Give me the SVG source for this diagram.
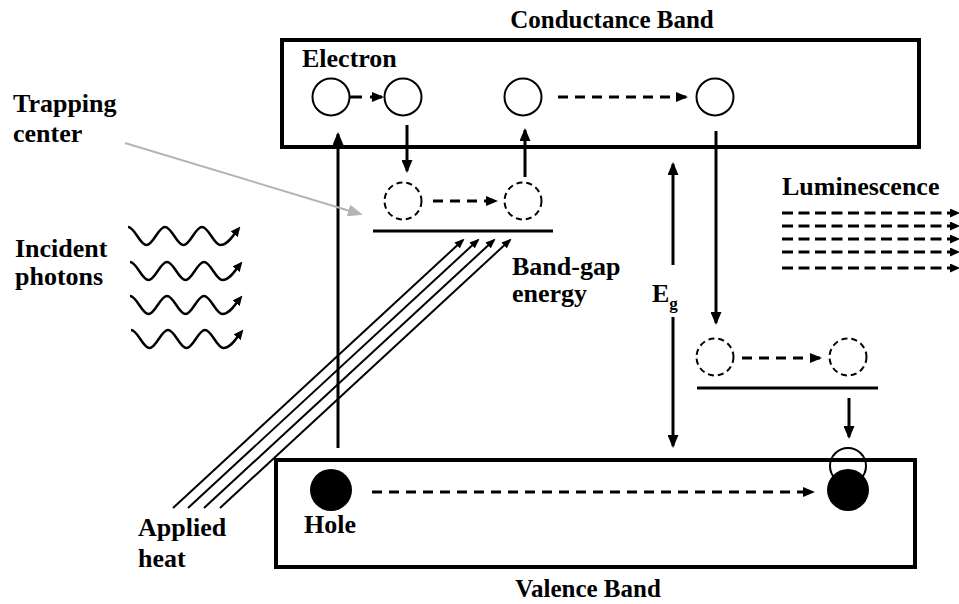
<svg xmlns="http://www.w3.org/2000/svg" width="959" height="604" viewBox="0 0 959 604" font-family="'Liberation Serif', 'DejaVu Serif', serif">
<style>
  text { font-family: "Liberation Serif", "DejaVu Serif", serif; font-weight: bold; fill: #000; }
  .lbl { font-size: 26px; }
  .title { font-size: 25px; }
  .band { fill: none; stroke: #000; stroke-width: 4; }
  .e { fill: #fff; stroke: #000; stroke-width: 2; }
  .ring { fill: none; stroke: #000; stroke-width: 2; }
  .trap { fill: none; stroke: #000; stroke-width: 2; stroke-dasharray: 6 4; }
  .hole { fill: #000; }
  .level { stroke: #000; stroke-width: 3; }
  .solid { stroke: #000; stroke-width: 3; fill: none; marker-end: url(#ah); }
  .dash { stroke: #000; stroke-width: 3; fill: none; stroke-dasharray: 10 7; marker-end: url(#ahd); }
  .diag { stroke: #000; stroke-width: 2; fill: none; marker-end: url(#ahs); }
  .wave { stroke: #000; stroke-width: 2.5; fill: none; marker-end: url(#ahw); }
  .lum { stroke: #000; stroke-width: 3; fill: none; stroke-dasharray: 11 5.5; marker-end: url(#ahl); }
  .ptr { stroke: #b4b4b4; stroke-width: 2; fill: none; marker-end: url(#ahg); }
</style>
<defs>
  <marker id="ah" markerUnits="userSpaceOnUse" markerWidth="13" markerHeight="11" refX="11" refY="5.5" orient="auto">
    <path d="M0,0 L13,5.5 L0,11 z" fill="#000"/>
  </marker>
  <marker id="ahd" markerUnits="userSpaceOnUse" markerWidth="12" markerHeight="10" refX="10" refY="5" orient="auto">
    <path d="M0,0 L12,5 L0,10 z" fill="#000"/>
  </marker>
  <marker id="ahs" markerUnits="userSpaceOnUse" markerWidth="10" markerHeight="8" refX="8" refY="4" orient="auto">
    <path d="M0,0 L10,4 L0,8 z" fill="#000"/>
  </marker>
  <marker id="ahw" markerUnits="userSpaceOnUse" markerWidth="10" markerHeight="9" refX="3" refY="4.5" orient="auto">
    <path d="M0,0 L10,4.5 L0,9 z" fill="#000"/>
  </marker>
  <marker id="ahl" markerUnits="userSpaceOnUse" markerWidth="10" markerHeight="9" refX="0" refY="4.5" orient="auto">
    <path d="M0,0 L10,4.5 L0,9 z" fill="#000"/>
  </marker>
  <marker id="ahg" markerUnits="userSpaceOnUse" markerWidth="15" markerHeight="12" refX="12" refY="6" orient="auto">
    <path d="M0,0 L15,6 L0,12 z" fill="#b4b4b4"/>
  </marker>
</defs>

<!-- Bands -->
<g id="conduction-band">
  <rect class="band" x="282" y="40" width="637" height="107"/>
  <text class="title" x="612" y="28" text-anchor="middle">Conductance Band</text>
</g>
<g id="valence-band">
  <rect class="band" x="276" y="460" width="639" height="107"/>
  <text class="title" x="588" y="597" text-anchor="middle">Valence Band</text>
</g>

<!-- Electrons in conduction band -->
<g id="electron-1"><circle class="e" cx="331" cy="97" r="18.5"/><text class="lbl" x="302" y="67">Electron</text></g>
<g id="electron-2"><circle class="e" cx="403" cy="97" r="18.5"/></g>
<g id="electron-3"><circle class="e" cx="523" cy="97" r="18.5"/></g>
<g id="electron-4"><circle class="e" cx="715" cy="97" r="18.5"/></g>

<!-- Trapping center -->
<g id="trap-upper">
  <circle class="trap" cx="403" cy="201" r="18.5"/>
  <circle class="trap" cx="523" cy="201" r="18.5"/>
  <line class="level" x1="373" y1="231" x2="553" y2="231"/>
</g>
<g id="trap-lower">
  <circle class="trap" cx="715" cy="357" r="18.5"/>
  <circle class="trap" cx="848" cy="357" r="18.5"/>
  <line class="level" x1="697" y1="388" x2="878" y2="388"/>
</g>

<!-- Holes -->
<g id="hole-1"><circle class="hole" cx="331" cy="490" r="21"/><text class="lbl" x="304" y="533">Hole</text></g>
<g id="hole-2">
  <circle class="ring" cx="848" cy="466" r="18"/>
  <circle class="hole" cx="848" cy="490" r="21"/>
</g>

<!-- Labels -->
<g id="label-trapping"><text class="lbl" x="13" y="112">Trapping</text><text class="lbl" x="13" y="142">center</text></g>
<g id="label-photons"><text class="lbl" x="15" y="257">Incident</text><text class="lbl" x="15" y="285">photons</text></g>
<g id="label-heat"><text class="lbl" x="138" y="536">Applied</text><text class="lbl" x="138" y="567">heat</text></g>
<g id="label-bandgap"><text class="lbl" x="512" y="275">Band-gap</text><text class="lbl" x="512" y="302">energy</text></g>
<g id="label-eg"><text class="lbl" x="652" y="302">E<tspan font-size="17" dy="7">g</tspan></text></g>
<g id="label-lum"><text class="lbl" x="782" y="195">Luminescence</text></g>

<!-- Connectors -->
<g id="connectors">
  <line class="dash" x1="350" y1="97" x2="382" y2="97" style="stroke-dasharray:12 8"/>
  <line class="dash" x1="558" y1="97" x2="686" y2="97"/>
  <line class="solid" x1="338" y1="448" x2="338" y2="134"/>
  <line class="solid" x1="407" y1="125" x2="407" y2="171"/>
  <line class="solid" x1="525" y1="177" x2="525" y2="130"/>
  <line class="dash" x1="433" y1="201" x2="496" y2="201"/>
  <line class="solid" x1="716" y1="131" x2="716" y2="323"/>
  <line class="dash" x1="742" y1="358" x2="820" y2="358"/>
  <line class="solid" x1="849" y1="398" x2="849" y2="437"/>
  <line class="dash" x1="372" y1="492" x2="813" y2="492"/>
  <line class="solid" x1="673" y1="265" x2="673" y2="164"/>
  <line class="solid" x1="673" y1="317" x2="673" y2="446"/>
  <line class="diag" x1="173" y1="508" x2="463" y2="240"/>
  <line class="diag" x1="188" y1="508" x2="478" y2="240"/>
  <line class="diag" x1="204" y1="508" x2="494" y2="240"/>
  <line class="diag" x1="220" y1="508" x2="510" y2="240"/>
  <line class="ptr" x1="125" y1="143" x2="360" y2="214"/>
  <path class="wave" d="M128 227 C134.7 227 139.8 245 146.5 245 S158.3 227 165 227 S176.8 245 183.5 245 S195.3 227 202 227 S213.8 245 220.5 245 C227.5 245 232 237 236 232"/>
  <path class="wave" d="M130 262 C136.7 262 141.8 280 148.5 280 S160.3 262 167 262 S178.8 280 185.5 280 S197.3 262 204 262 S215.8 280 222.5 280 C229.5 280 234 272 238 267"/>
  <path class="wave" d="M130 296 C136.7 296 141.8 314 148.5 314 S160.3 296 167 296 S178.8 314 185.5 314 S197.3 296 204 296 S215.8 314 222.5 314 C229.5 314 234 306 238 301"/>
  <path class="wave" d="M131 330 C137.7 330 142.8 348 149.5 348 S161.3 330 168 330 S179.8 348 186.5 348 S198.3 330 205 330 S216.8 348 223.5 348 C230.5 348 235 340 239 335"/>
  <line class="lum" x1="782" y1="213" x2="950" y2="213"/>
  <line class="lum" x1="782" y1="226" x2="950" y2="226"/>
  <line class="lum" x1="782" y1="239" x2="950" y2="239"/>
  <line class="lum" x1="782" y1="252" x2="950" y2="252"/>
  <line class="lum" x1="782" y1="268" x2="950" y2="268"/>
</g>
</svg>
